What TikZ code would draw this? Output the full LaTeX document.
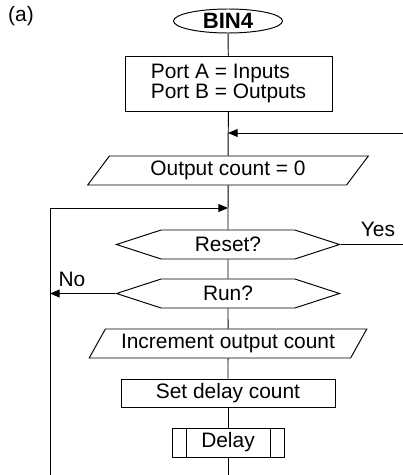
\documentclass[tikz,border=0pt]{standalone}
\usepackage{fontspec}
\setmainfont{Liberation Sans}
\usetikzlibrary{shapes.geometric, shapes.symbols, arrows.meta}

\begin{document}
\begin{tikzpicture}[>={Triangle[length=5.5pt,width=4.5pt]}, line width=0.55pt,
  every node/.style={font=\fontsize{11.9pt}{9.4pt}\selectfont, inner sep=0pt},
  terminal/.style={draw, ellipse, minimum width=2.18cm, minimum height=0.48cm,
    font=\fontsize{12.6pt}{14pt}\selectfont\bfseries},
  procbox/.style={draw, rectangle, minimum height=0.56cm},
  iobox/.style={draw, trapezium, trapezium left angle=53, trapezium right angle=127,
    trapezium stretches=true, minimum height=0.58cm},
  decision/.style={draw, signal, signal to=west and east, signal pointer angle=36,
    minimum width=4.46cm, minimum height=0.58cm},
  subproc/.style={draw, rectangle, minimum width=2.24cm, minimum height=0.58cm,
    path picture={
      \draw ([xshift=0.28cm]path picture bounding box.north west) -- ([xshift=0.28cm]path picture bounding box.south west);
      \draw ([xshift=-0.28cm]path picture bounding box.north east) -- ([xshift=-0.28cm]path picture bounding box.south east);
    }}]
  \useasboundingbox (0,0) rectangle (8.06,-9.5);
  % Label and start
  \node (tag) at (0.42,-0.32) {(a)};
  \node[terminal] (start) at (4.56,-0.42) {BIN4};
  % Main column of steps
  \node[procbox, minimum width=4.14cm, minimum height=1.10cm, align=left] (ports) at (4.57,-1.67) {Port A = Inputs\\Port B = Outputs};
  \node[iobox, minimum width=5.62cm] (clear) at (4.56,-3.41) {Output count = 0};
  \node[decision] (reset) at (4.56,-4.89) {Reset?};
  \node[decision] (run) at (4.56,-5.87) {Run?};
  \node[iobox, minimum width=5.56cm] (incr) at (4.56,-6.87) {Increment output count};
  \node[procbox, minimum width=4.28cm] (setdel) at (4.56,-7.86) {Set delay count};
  \node[subproc] (delay) at (4.56,-8.85) {Delay};
  % Free ends of the return lines
  \coordinate (retin) at (8.06,-2.66);
  \coordinate (retjoin) at (4.56,-2.66);
  \coordinate (loopjoin) at (4.56,-4.16);
  \coordinate (loopcorner) at (1.0,-4.16);
  \coordinate (loopbot) at (1.0,-9.5);
  \coordinate (yesend) at (8.06,-4.89);
  \coordinate (flowend) at (4.56,-9.5);
  % Flow lines
  \draw (start) -- (ports);
  \draw (ports) -- (clear);
  \draw[->] (retin) -- (retjoin);
  \draw (clear) -- (reset);
  \draw[->] (loopbot) -- (loopcorner) -- (loopjoin);
  \draw (reset) -- (run);
  \draw (reset.east) -- (yesend);
  \node (yes) at (7.56,-4.58) {Yes};
  \draw[->] (run.west) -- (run.west -| loopbot);
  \node (no) at (1.44,-5.58) {No};
  \draw (run) -- (incr);
  \draw (incr) -- (setdel);
  \draw (setdel) -- (delay);
  \draw (delay) -- (flowend);
\end{tikzpicture}
\end{document}
